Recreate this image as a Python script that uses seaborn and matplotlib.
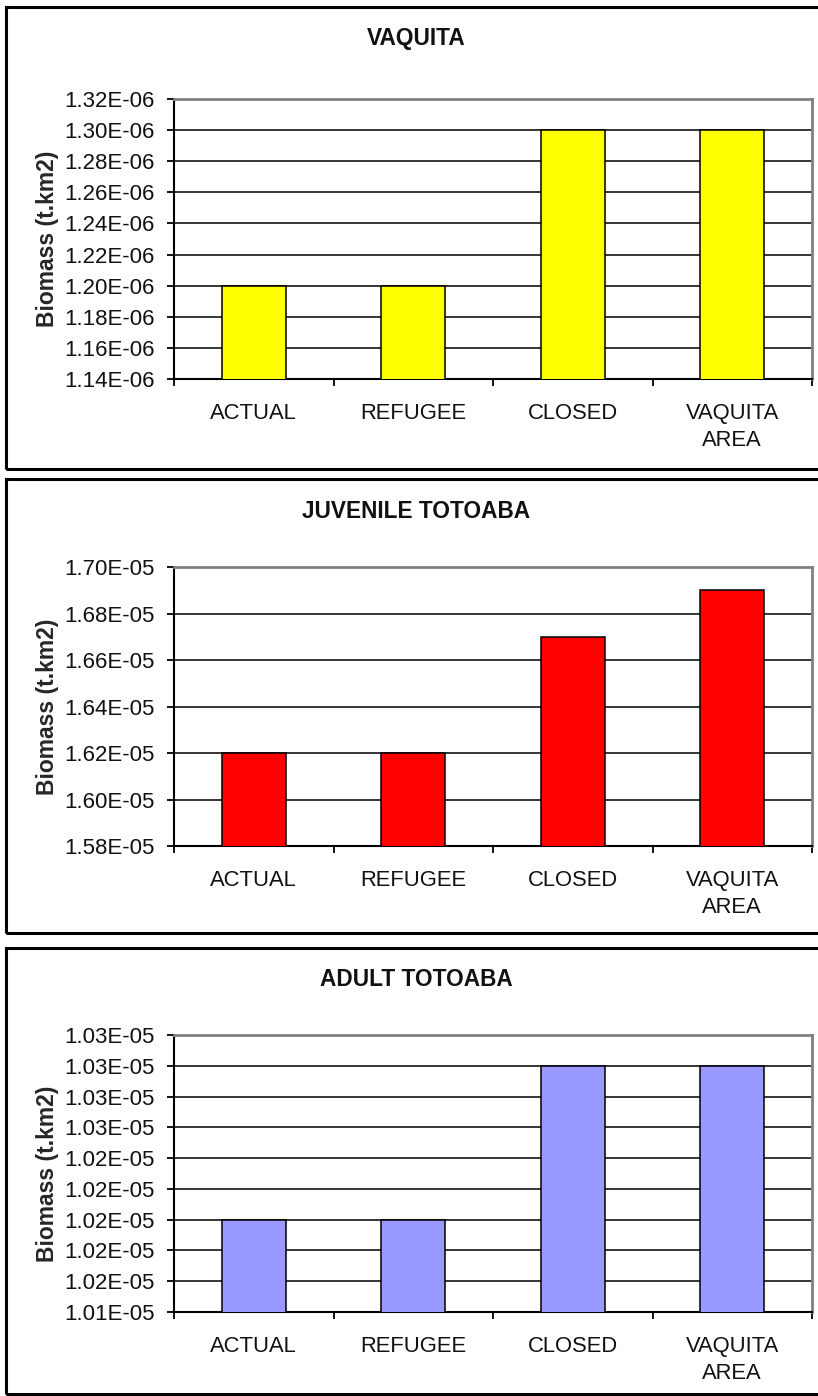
import matplotlib
matplotlib.use("Agg")
import matplotlib.pyplot as plt
import seaborn as sns
import pandas as pd
from matplotlib.patches import Rectangle

sns.set_theme(style="white")
plt.rcParams['font.family'] = ['Liberation Sans', 'DejaVu Sans']

# ---- data ----
categories = ["ACTUAL", "REFUGEE", "CLOSED", "VAQUITA\nAREA"]

vaquita_vals = [1.20e-06, 1.20e-06, 1.30e-06, 1.30e-06]
juvenile_vals = [1.62e-05, 1.62e-05, 1.67e-05, 1.69e-05]
adult_vals = [1.020e-05, 1.020e-05, 1.030e-05, 1.030e-05]

vaquita_ticks = [1.14e-06, 1.16e-06, 1.18e-06, 1.20e-06, 1.22e-06,
                 1.24e-06, 1.26e-06, 1.28e-06, 1.30e-06, 1.32e-06]
vaquita_ticklabels = ["1.14E-06", "1.16E-06", "1.18E-06", "1.20E-06", "1.22E-06",
                      "1.24E-06", "1.26E-06", "1.28E-06", "1.30E-06", "1.32E-06"]

juvenile_ticks = [1.58e-05, 1.60e-05, 1.62e-05, 1.64e-05, 1.66e-05, 1.68e-05, 1.70e-05]
juvenile_ticklabels = ["1.58E-05", "1.60E-05", "1.62E-05", "1.64E-05",
                       "1.66E-05", "1.68E-05", "1.70E-05"]

adult_ticks = [1.014e-05, 1.016e-05, 1.018e-05, 1.020e-05, 1.022e-05,
               1.024e-05, 1.026e-05, 1.028e-05, 1.030e-05, 1.032e-05]
adult_ticklabels = ["1.01E-05", "1.02E-05", "1.02E-05", "1.02E-05", "1.02E-05",
                    "1.02E-05", "1.03E-05", "1.03E-05", "1.03E-05", "1.03E-05"]

titles = ["VAQUITA", "JUVENILE TOTOABA", "ADULT TOTOABA"]
colors = ["#FFFF00", "#FF0000", "#9999FF"]
ylabel = "Biomass (t.km2)"

# ---- layout (pixels) ----
W, H = 818, 1396
fig = plt.figure(figsize=(W / 100, H / 100), dpi=100)

ax_boxes = [(174, 812, 99, 379), (174, 812, 567, 846), (174, 812, 1035, 1312)]
panel_boxes = [(6, 7, 469), (6, 479, 933), (6, 948, 1394)]
title_y = [38, 511, 980]

series = [
    (vaquita_vals, vaquita_ticks, vaquita_ticklabels),
    (juvenile_vals, juvenile_ticks, juvenile_ticklabels),
    (adult_vals, adult_ticks, adult_ticklabels),
]

for i, ((vals, ticks, tlabels), (l, r, t, b)) in enumerate(zip(series, ax_boxes)):
    ax = fig.add_axes([l / W, 1 - b / H, (r - l) / W, (b - t) / H])
    df = pd.DataFrame({"cat": categories, "val": vals})
    sns.barplot(data=df, x="cat", y="val", color=colors[i], width=0.4,
                edgecolor="black", linewidth=1.1, saturation=1, ax=ax, zorder=3)
    ax.set_ylim(ticks[0], ticks[-1])
    ax.set_xlim(-0.5, len(categories) - 0.5)
    ax.set_yticks(ticks)
    ax.set_yticklabels(tlabels)
    ax.yaxis.grid(True, color="black", linewidth=1.1, zorder=0)
    ax.set_axisbelow(True)
    ax.set_xlabel("")
    ax.set_ylabel(ylabel, fontsize=16.5, fontweight="bold")
    ax.yaxis.set_label_coords(-(l - 59) / (r - l), 0.5)
    ax.set_xticks(range(len(categories)))
    ax.set_xticklabels(categories, linespacing=1.38)
    ax.set_xticks([x - 0.5 for x in range(len(categories) + 1)], minor=True)
    ax.tick_params(axis="x", which="major", length=0, pad=17, labelsize=15.8, colors="#111111")
    ax.tick_params(axis="x", which="minor", length=5, width=1.3, direction="out",
                   color="black", bottom=True)
    ax.tick_params(axis="y", which="major", length=5, width=1.3, direction="out",
                   pad=9, labelsize=16, left=True, color="black", labelcolor="#111111")
    for side in ["left", "bottom"]:
        ax.spines[side].set_color("black")
        ax.spines[side].set_linewidth(1.5)
    for side in ["top", "right"]:
        ax.spines[side].set_color("#808080")
        ax.spines[side].set_linewidth(2)
    for side in ax.spines:
        ax.spines[side].set_visible(True)

    fig.text(416 / W, 1 - title_y[i] / H, titles[i], ha="center", va="center",
             fontsize=16.3, fontweight="bold", color="#111111")

for (x0, y0, y1) in panel_boxes:
    fig.add_artist(Rectangle((x0 / W, 1 - y1 / H), (830 - x0) / W, (y1 - y0) / H,
                             transform=fig.transFigure, fill=False,
                             edgecolor="black", linewidth=2.2, clip_on=False))

fig.savefig("out.png", dpi=100, facecolor="white")
